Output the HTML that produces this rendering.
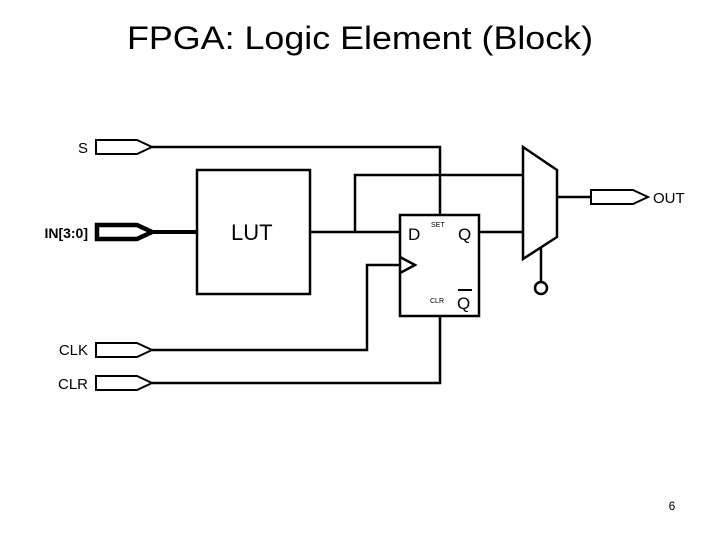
<!DOCTYPE html>
<html><head><style>
body{margin:0;background:#fff;}
svg{display:block;font-family:"Liberation Sans",Arial,sans-serif;}
</style></head><body>
<svg width="720" height="540" viewBox="0 0 720 540">
<text x="360" y="49" font-size="32" text-anchor="middle" textLength="466" lengthAdjust="spacingAndGlyphs">FPGA: Logic Element (Block)</text>
<g fill="none" stroke="#000" stroke-width="2.5">
<polygon points="96,140 137,140 152,147 137,154 96,154" stroke-width="2"/>
<polygon points="97,225 137,225 152,232 137,239 97,239" stroke-width="4.5"/>
<polygon points="96,343 137,343 152,350 137,357 96,357" stroke-width="2"/>
<polygon points="96,376 137,376 152,383 137,390 96,390" stroke-width="2"/>
<polygon points="591,190 633,190 648,197 633,204 591,204" stroke-width="2"/>
<rect x="197" y="170" width="113" height="124"/>
<line x1="152" y1="232" x2="197" y2="232" stroke-width="4"/>
<polyline points="152,147 440,147 440,215"/>
<polyline points="310,232 400,232"/>
<polyline points="355,232 355,175 523,175"/>
<polyline points="479,232 523,232"/>
<polyline points="152,350 367,350 367,265 400,265"/>
<polyline points="152,383 440,383 440,316"/>
<rect x="400" y="215" width="79" height="101"/>
<polyline points="400,257 415,265 400,273"/>
<polygon points="523,147 557,170 557,237 523,259"/>
<line x1="557" y1="197" x2="591" y2="197"/>
<line x1="541" y1="248" x2="541" y2="282"/>
<circle cx="541" cy="288" r="6"/>
<line x1="458" y1="290" x2="472" y2="290" stroke-width="2"/>
</g>
<g font-size="15">
<text x="88" y="153" text-anchor="end">S</text>
<text x="88" y="238" text-anchor="end" font-weight="bold" font-size="14">IN[3:0]</text>
<text x="88" y="355" text-anchor="end">CLK</text>
<text x="88" y="389" text-anchor="end">CLR</text>
<text x="653" y="203">OUT</text>
</g>
<text x="231" y="240" font-size="22">LUT</text>
<text x="408" y="240" font-size="17">D</text>
<text x="458" y="240" font-size="17">Q</text>
<text x="457" y="309" font-size="17">Q</text>
<text x="431" y="227" font-size="7">SET</text>
<text x="430" y="303" font-size="7">CLR</text>
<text x="672" y="510" font-size="12" text-anchor="middle">6</text>
</svg>
</body></html>
